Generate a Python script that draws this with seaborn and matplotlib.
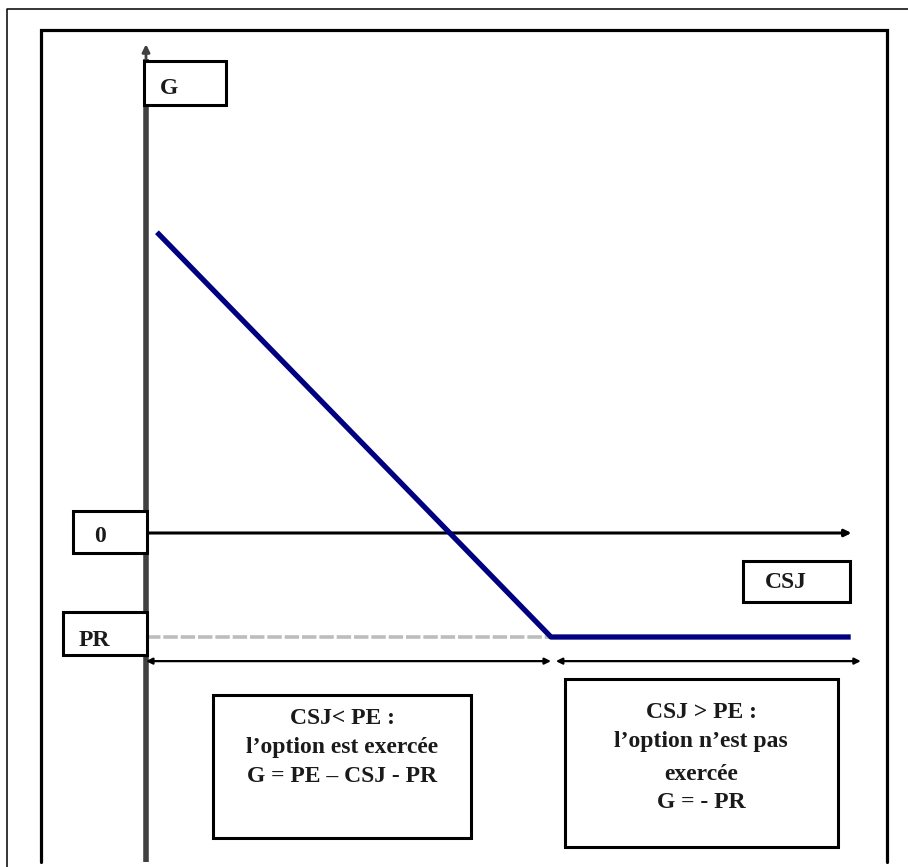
import matplotlib
matplotlib.use("Agg")
import matplotlib.pyplot as plt
import seaborn as sns
import pandas as pd
from matplotlib.patches import Rectangle
from matplotlib.lines import Line2D

# Payoff data: put option buyer, PE = strike, PR = premium
PE = 100
PR = 25
csj = [2.7, 100, 174]          # share price at expiry
gain = [72.3, -25, -25]        # G
premium_x = [0, PE]
premium_y = [-PR, -PR]
arrow_y = -30.8
left_range = [0, PE]
right_range = [101.2, 176.5]

left_lines = ["CSJ< PE :", "l’option est exercée", "G = PE – CSJ - PR"]
right_lines = ["CSJ > PE :", "l’option n’est pas", "exercée", "G = - PR"]

W, H = 908, 867

sns.set_theme(style="white")
plt.rcParams["font.family"] = ["Liberation Serif", "DejaVu Serif"]

fig = plt.figure(figsize=(W / 100, H / 100), dpi=100)
ax = fig.add_axes([0, 0, 1, 1])

# data scale: origin at pixel (146, 533), 4.05 px per CSJ unit, 4.16 px per G unit
XLIM = (-146 / 4.05, (W - 146) / 4.05)
YLIM = ((533 - H) / 4.16, 533 / 4.16)


def fx(px):
    return px / W


def fy(py):
    return 1 - py / H


def box(x0, y0, x1, y1, lw=2.2):
    ax.add_patch(Rectangle((fx(x0), fy(y1)), fx(x1) - fx(x0), fy(y0) - fy(y1),
                           transform=ax.transAxes, fill=True, facecolor="white",
                           edgecolor="black", lw=lw, zorder=4))


# frames
ax.add_line(Line2D([fx(7), fx(7), fx(910)], [fy(870), fy(8.5), fy(8.5)],
                   transform=ax.transAxes, color="black", lw=1.1))
ax.add_line(Line2D([fx(41), fx(41), fx(887), fx(887)],
                   [fy(862), fy(29.5), fy(29.5), fy(862)],
                   transform=ax.transAxes, color="black", lw=2.3,
                   solid_joinstyle="miter"))

# axes of the diagram
ax.plot([0, 0], [YLIM[0] + 1.2, 114], color="#404040", lw=4.0,
        solid_capstyle="butt", zorder=2)
ax.annotate("", xy=(0, 117.5), xytext=(0, 110),
            arrowprops=dict(arrowstyle="-|>", color="#404040", lw=2.0,
                            mutation_scale=11, shrinkA=0, shrinkB=0), zorder=2)
ax.annotate("", xy=(174.2, 0), xytext=(0, 0),
            arrowprops=dict(arrowstyle="-|>", color="black", lw=2.2,
                            mutation_scale=10, shrinkA=0, shrinkB=0), zorder=2)

# premium level (dotted grey)
ax.plot(premium_x, premium_y, color="#bdbdbd", lw=2.6, ls=(0, (4, 0.8)), zorder=2)

# payoff
df = pd.DataFrame({"CSJ": csj, "G": gain})
sns.lineplot(data=df, x="CSJ", y="G", color="#000080", lw=3.8, ax=ax,
             sort=False, zorder=3, solid_capstyle="butt")
ax.set_xlim(*XLIM)
ax.set_ylim(*YLIM)
ax.axis("off")

# range arrows
for r in (left_range, right_range):
    ax.annotate("", xy=(r[1], arrow_y), xytext=(r[0], arrow_y),
                arrowprops=dict(arrowstyle="<|-|>", color="black", lw=1.6,
                                mutation_scale=9, shrinkA=0, shrinkB=0))

# labelled boxes
txt = dict(transform=ax.transAxes, color="#1a1a1a", fontweight="bold",
           fontsize=17, zorder=5, va="center")
box(144, 61, 226, 105)
ax.text(fx(160), fy(89), "G", ha="left", **txt)
box(73, 511, 147, 553)
ax.text(fx(100), fy(537), "0", ha="center", **txt)
box(63, 612, 147, 655)
ax.text(fx(94), fy(641), "PR", ha="center", **txt)
box(743, 561, 850, 602)
ax.text(fx(786), fy(583), "CSJ", ha="center", **txt)

box(213, 695, 471, 838)
for t, py in zip(left_lines, [719, 748, 777]):
    ax.text(fx(342), fy(py), t, ha="center", **txt)

box(565, 679, 838, 847)
for t, py in zip(right_lines, [712, 741, 774, 803]):
    ax.text(fx(701), fy(py), t, ha="center", **txt)

fig.savefig("out.png", dpi=100, facecolor="white")
